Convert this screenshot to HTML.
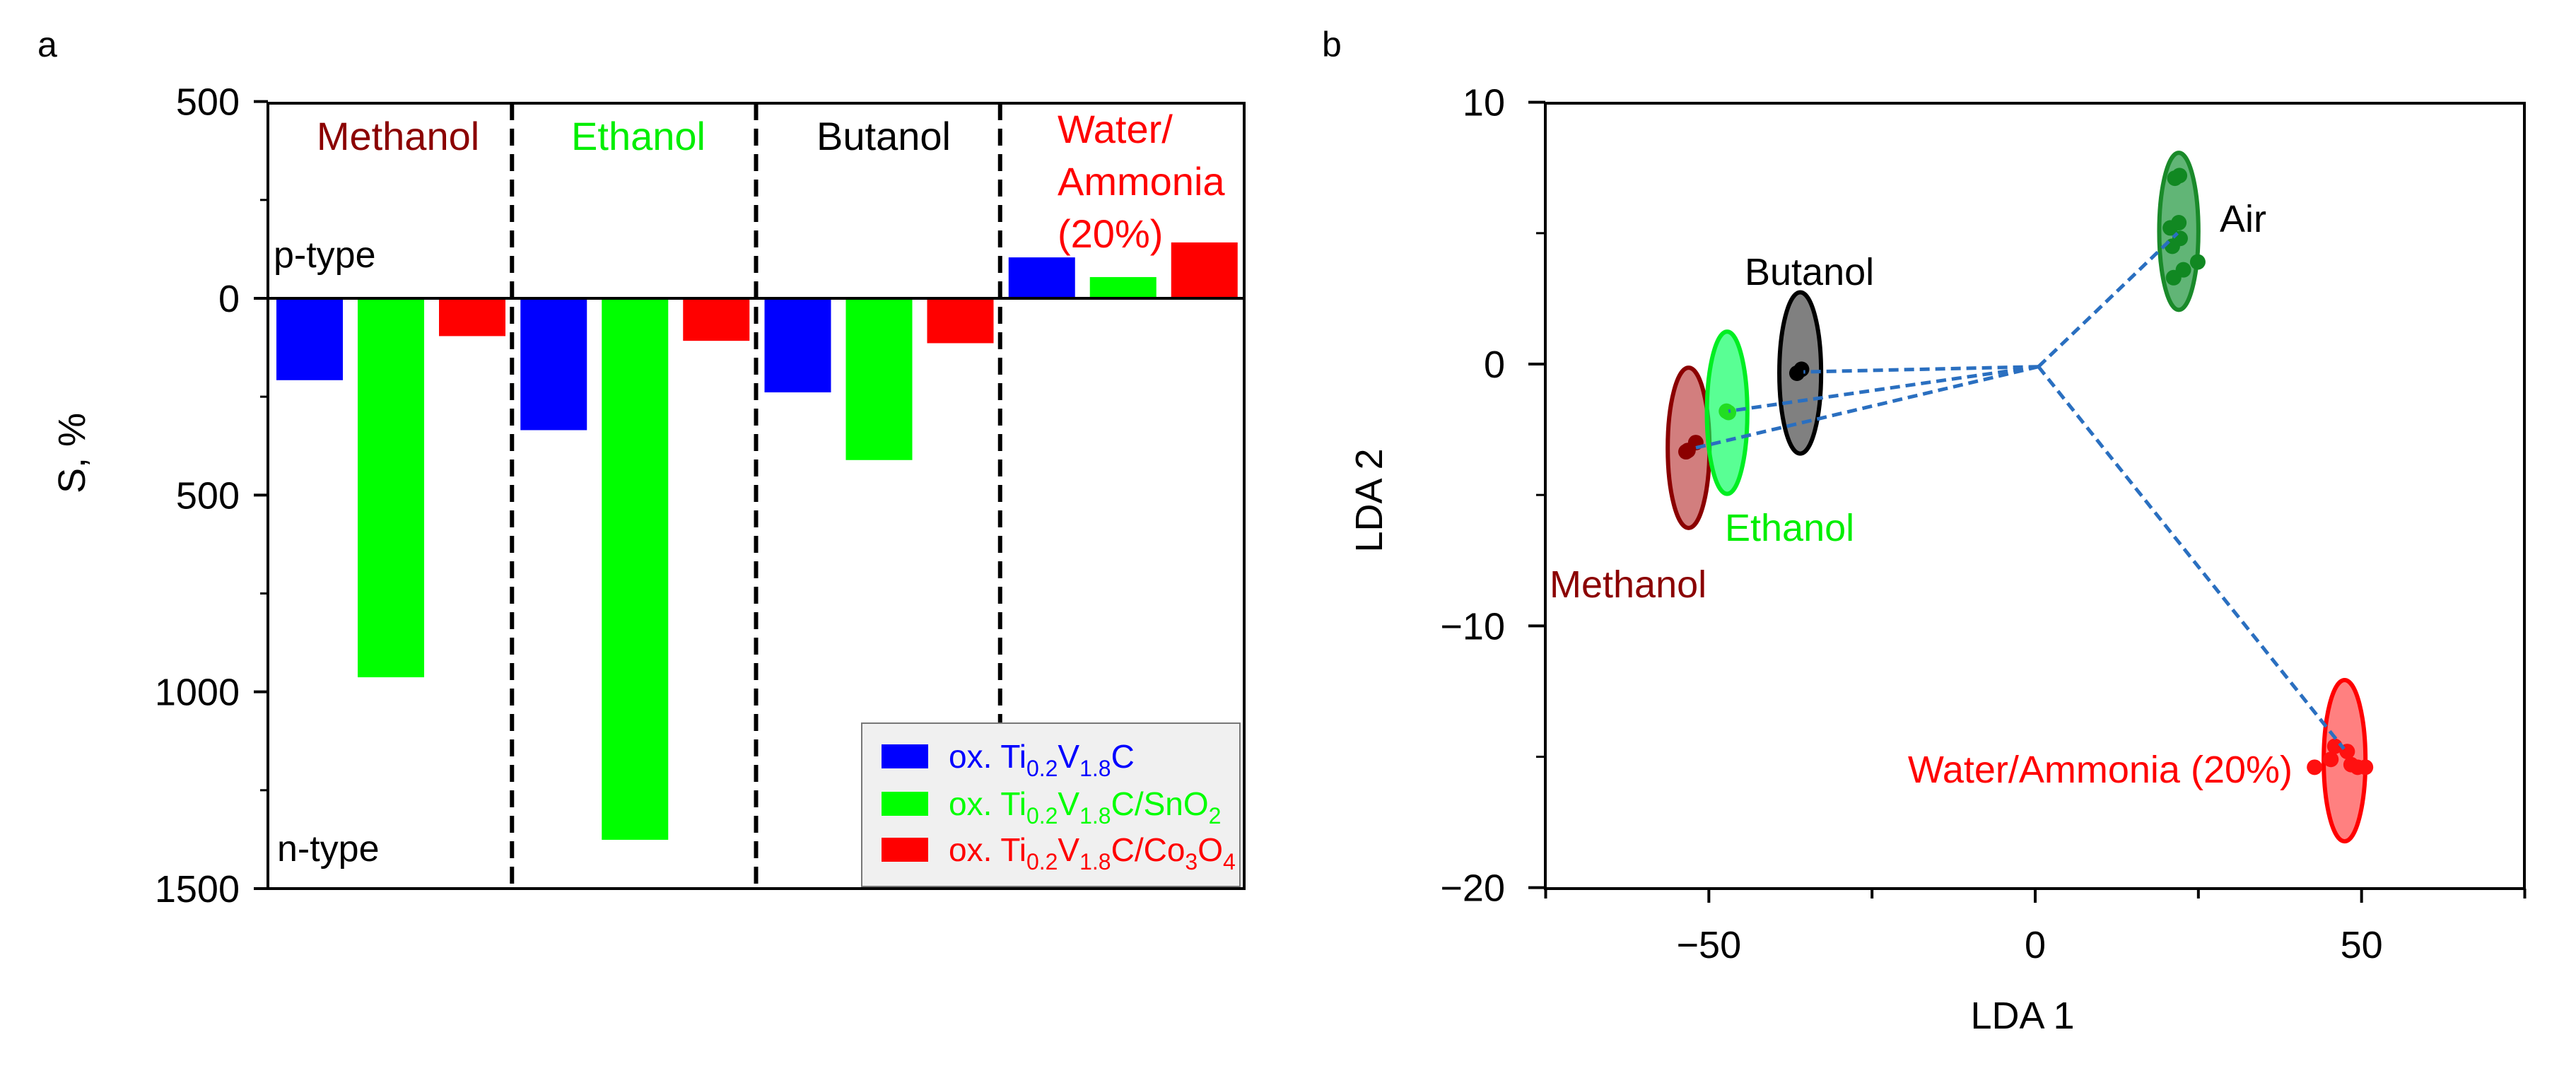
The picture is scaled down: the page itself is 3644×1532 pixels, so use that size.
<!DOCTYPE html>
<html><head><meta charset="utf-8"><style>
html,body{margin:0;padding:0;background:#fff;}
svg{display:block;font-family:"Liberation Sans",sans-serif;}
</style></head><body>
<svg id="fig" width="3644" height="1532" viewBox="0 0 3644 1532" xmlns="http://www.w3.org/2000/svg">
<g id="pa"></g>
<g id="pb"></g>
</svg>
<script>
// ---- Panel a data ----
const groups = ["Methanol","Ethanol","Butanol","Water/Ammonia"];
const seriesNames = ["ox. Ti0.2V1.8C","ox. Ti0.2V1.8C/SnO2","ox. Ti0.2V1.8C/Co3O4"];
const seriesColors = ["#0000ff","#00ff00","#ff0000"];
// positive = p-type (upwards), negative = n-type (downwards)
const sBlue  = [-208,-335,-239,104];
const sGreen = [-963,-1376,-411,54];
const sRed   = [-96,-108,-114,142];
const aTicks = [500,0,-500,-1000,-1500];
const aTickLabels = ["500","0","500","1000","1500"];

// ---- Panel b data ----
const clusters = ["Methanol","Ethanol","Butanol","Air","Water/Ammonia (20%)"];
const ellCx = [-53.1,-47.2,-36.0,22.0,47.4];
const ellCy = [-3.2,-1.86,-0.34,5.07,-15.15];
const ellRx = [3.2,3.1,3.2,3.0,3.2];
const ellRy = [3.06,3.1,3.08,3.0,3.08];
const ptsX = [[-53.2,-52.0,-53.5],[-47.3,-47.0],[-36.5,-35.8],
  [21.4,22.1,20.7,22.0,21.0,22.2,24.9,21.2,22.7],
  [42.8,45.3,45.9,47.8,48.4,50.6,49.4]];
const ptsY = [[-3.3,-3.0,-3.35],[-1.8,-1.85],[-0.35,-0.2],
  [7.1,7.2,5.2,5.4,4.5,4.8,3.9,3.3,3.6],
  [-15.4,-15.1,-14.6,-14.8,-15.3,-15.4,-15.4]];
const meanX = [-52.0,-47.0,-35.5,21.8,47.3];
const meanY = [-3.2,-1.8,-0.3,5.0,-14.7];
const origin = [0.5,-0.1];
const bxTicks = [-50,0,50];
const byTicks = [10,0,-10,-20];

const NS="http://www.w3.org/2000/svg";
function mk(parent,tag,attrs,text){const e=document.createElementNS(NS,tag);for(const k in attrs)e.setAttribute(k,attrs[k]);if(text!==undefined)e.textContent=text;parent.appendChild(e);return e;}

// ===== Panel a =====
const pa=document.getElementById('pa');
const aL=379,aR=1760,aT=146,aB=1257;
const ay=v=>422-(v)*(835/1500);
const gW=(aR-aL)/4;
let t;
t=mk(pa,'text',{x:53,y:80,'font-size':50});t.textContent='a';


const series=[sBlue,sGreen,sRed];
series.forEach((arr,si)=>{arr.forEach((v,gi)=>{
  const x=aL+gi*gW+12+si*115;
  const y0=ay(0),y1=ay(v);
  const r=mk(pa,'rect',{x:x,y:Math.min(y0,y1),width:94,height:Math.abs(y1-y0),fill:seriesColors[si]});
  
  
});});
// zero line
t=mk(pa,'line',{x1:aL,x2:aR,y1:ay(0),y2:ay(0),stroke:'#000','stroke-width':4});


// dividers
for(let i=1;i<4;i++){const x=aL+i*gW;
  t=mk(pa,'line',{x1:x,x2:x,y1:aT,y2:aB,stroke:'#000','stroke-width':6,'stroke-dasharray':'24,12'});
  
  }
// frame
t=mk(pa,'rect',{x:aL,y:aT,width:aR-aL,height:aB-aT,fill:'none',stroke:'#000','stroke-width':4});


aTicks.forEach((v,i)=>{
  mk(pa,'line',{x1:aL-20,x2:aL,y1:ay(v),y2:ay(v),stroke:'#000','stroke-width':4});
  t=mk(pa,'text',{x:aL-40,y:ay(v)+19,'font-size':54,'text-anchor':'end'},aTickLabels[i]);
  
  
  if(i<aTicks.length-1){mk(pa,'line',{x1:aL-11,x2:aL,y1:ay(v-250),y2:ay(v-250),stroke:'#000','stroke-width':3});}
});
t=mk(pa,'text',{x:0,y:0,'font-size':54,'text-anchor':'middle',transform:'translate(120,641) rotate(-90)'},'S, %');


const gLab=[['Methanol','#8b0000',563],['Ethanol','#00ee00',903],['Butanol','#000',1250]];
gLab.forEach(g=>{t=mk(pa,'text',{x:g[2],y:212,'font-size':56,'text-anchor':'middle',fill:g[1]},g[0]);
  
  });
['Water/','Ammonia','(20%)'].forEach((s,i)=>{t=mk(pa,'text',{x:1496,y:202+i*74,'font-size':56,fill:'#ff0000'},s);
  
  });
t=mk(pa,'text',{x:387,y:378,'font-size':52},'p-type');


t=mk(pa,'text',{x:392,y:1218,'font-size':52},'n-type');


// legend
const lg=mk(pa,'g',{});


mk(lg,'rect',{x:1219,y:1023,width:535,height:231,fill:'#f0f0f0',stroke:'#777','stroke-width':2});
const subs=[[['ox. Ti',''],['0.2','s'],['V',''],['1.8','s'],['C','']],
 [['ox. Ti',''],['0.2','s'],['V',''],['1.8','s'],['C/SnO',''],['2','s']],
 [['ox. Ti',''],['0.2','s'],['V',''],['1.8','s'],['C/Co',''],['3','s'],['O',''],['4','s']]];
[1070,1137,1202].forEach((y,i)=>{
  const sw=mk(lg,'rect',{x:1247,y:y-17,width:66,height:34,fill:seriesColors[i]});
  
  
  const tx=mk(lg,'text',{x:1342,y:y+16,'font-size':46,fill:seriesColors[i]});
  
  
  subs[i].forEach(p=>{const ts=mk(tx,'tspan',p[1]?{'font-size':32,dy:12}:{dy:0},p[0]);
    if(p[1]){} });
  // reset dy after subscripts
  let prevSub=false;
  Array.from(tx.children).forEach((c,j)=>{const isSub=subs[i][j][1]==='s';
    c.setAttribute('dy',isSub&&!prevSub?12:(!isSub&&prevSub?-12:0));prevSub=isSub;});
});

// ===== Panel b =====
const pb=document.getElementById('pb');
const bL=2186,bR=3571,bT=146,bB=1257;
const bx=v=>2879+v*(bR-bL)/150;
const by=v=>515-v*(bB-bT)/30;
t=mk(pb,'text',{x:1870,y:80,'font-size':50},'b');


const fills=['rgba(180,40,40,0.6)','rgba(0,255,90,0.65)','#808080','rgba(30,150,60,0.7)','rgba(255,60,60,0.65)'];
const strokes=['#8b0000','#00ee22','#000','#1a8a2a','#ff0000'];
const dots=['#8b0000','#22dd22','#000','#118822','#ff1010'];
clusters.forEach((c,i)=>{
  const e=mk(pb,'ellipse',{cx:bx(ellCx[i]),cy:by(ellCy[i]),rx:ellRx[i]*(bR-bL)/150,ry:ellRy[i]*(bB-bT)/30,fill:fills[i],stroke:strokes[i],'stroke-width':6});
  
  
  ptsX[i].forEach((x,j)=>{const p=mk(pb,'circle',{cx:bx(x),cy:by(ptsY[i][j]),r:11,fill:dots[i]});
    
    });
});
clusters.forEach((c,i)=>{
  const l=mk(pb,'line',{x1:bx(origin[0]),y1:by(origin[1]),x2:bx(meanX[i]),y2:by(meanY[i]),stroke:'#2a6fc0','stroke-width':5,'stroke-dasharray':'14,8'});
  
  
});
t=mk(pb,'rect',{x:bL,y:bT,width:bR-bL,height:bB-bT,fill:'none',stroke:'#000','stroke-width':4});


byTicks.forEach(v=>{
  mk(pb,'line',{x1:bL-24,x2:bL,y1:by(v),y2:by(v),stroke:'#000','stroke-width':4});
  t=mk(pb,'text',{x:2129,y:by(v)+19,'font-size':54,'text-anchor':'end'},v<0?'\u2212'+(-v):String(v));
  
  
  if(v>-20)mk(pb,'line',{x1:bL-13,x2:bL,y1:by(v-5),y2:by(v-5),stroke:'#000','stroke-width':3});
});
for(let v=-75;v<=75;v+=25){mk(pb,'line',{x1:bx(v),x2:bx(v),y1:bB,y2:bB+(v%50===0?20:14),stroke:'#000','stroke-width':4});}
bxTicks.forEach(v=>{t=mk(pb,'text',{x:bx(v),y:1355,'font-size':54,'text-anchor':'middle'},v<0?'\u2212'+(-v):String(v));
  
  });
t=mk(pb,'text',{x:2861,y:1455,'font-size':54,'text-anchor':'middle'},'LDA 1');


t=mk(pb,'text',{x:0,y:0,'font-size':54,'text-anchor':'middle',transform:'translate(1955,708) rotate(-90)'},'LDA 2');


const cl=[['Butanol','#000',2468,403,'start'],['Air','#000',3140,328,'start'],['Ethanol','#00ee00',2440,765,'start'],['Methanol','#8b0000',2192,845,'start'],['Water/Ammonia (20%)','#ff0000',3243,1107,'end']];
cl.forEach(c=>{t=mk(pb,'text',{x:c[2],y:c[3],'font-size':54,fill:c[1],'text-anchor':c[4]},c[0]);
  
  });
</script>
</body></html>
